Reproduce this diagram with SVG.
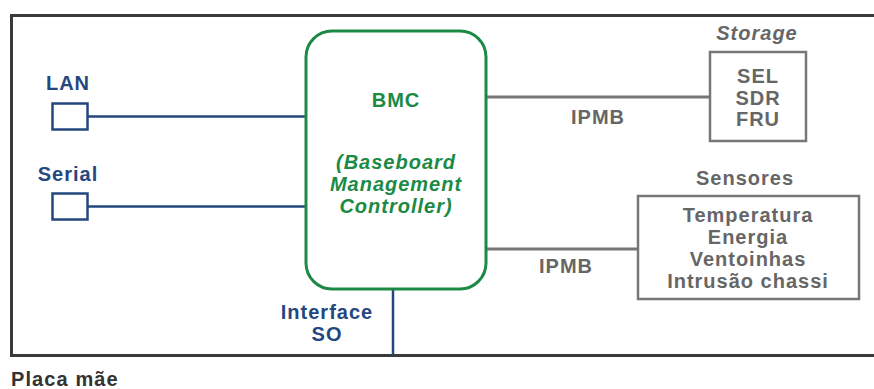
<svg xmlns="http://www.w3.org/2000/svg" width="874" height="389" viewBox="0 0 874 389">
  <style>
    text { font-family: "Liberation Sans", Arial, sans-serif; font-weight: bold; font-size: 20px; letter-spacing: 1px; }
    .blue { fill: #24477f; }
    .green { fill: #1c8a45; }
    .gray { fill: #666666; }
    .port { fill: #ffffff; stroke: #24477f; stroke-width: 2.5; }
    .bline { stroke: #24477f; stroke-width: 2.5; fill: none; }
    .gline { stroke: #777777; stroke-width: 3; fill: none; }
    .gbox { fill: #ffffff; stroke: #777777; stroke-width: 2.5; }
  </style>
  <rect width="874" height="389" fill="#ffffff"/>

  <!-- motherboard frame -->
  <g id="board">
    <rect x="11.5" y="15.5" width="880" height="340" fill="none" stroke="#3a3a3a" stroke-width="3"/>
    <text x="11" y="386" style="fill:#333333;font-size:20px;letter-spacing:1.1px">Placa mãe</text>
  </g>

  <!-- connectors -->
  <g id="connectors">
    <line class="bline" x1="88" y1="116.5" x2="306" y2="116.5"/>
    <line class="bline" x1="88" y1="206.5" x2="306" y2="206.5"/>
    <line class="bline" x1="393" y1="289" x2="393" y2="355"/>
    <line class="gline" x1="487" y1="97" x2="710" y2="97"/>
    <line class="gline" x1="487" y1="249" x2="638" y2="249"/>
  </g>

  <g id="lan">
    <text class="blue" x="68" y="90" text-anchor="middle">LAN</text>
    <rect class="port" x="52.5" y="103.5" width="35" height="26"/>
  </g>

  <g id="serial">
    <text class="blue" x="68" y="181" text-anchor="middle">Serial</text>
    <rect class="port" x="52.5" y="193.5" width="35" height="26"/>
  </g>

  <g id="bmc">
    <rect x="306" y="31" width="180" height="258" rx="26" ry="26" fill="#ffffff" stroke="#1c8a45" stroke-width="3"/>
    <text class="green" x="396" y="107" text-anchor="middle">BMC</text>
    <text class="green" x="396" y="169" text-anchor="middle" font-style="italic">(Baseboard</text>
    <text class="green" x="396" y="191" text-anchor="middle" font-style="italic">Management</text>
    <text class="green" x="396" y="213" text-anchor="middle" font-style="italic">Controller)</text>
  </g>

  <g id="interface-so">
    <text class="blue" x="327" y="319" text-anchor="middle">Interface</text>
    <text class="blue" x="327" y="341" text-anchor="middle">SO</text>
  </g>

  <g id="storage">
    <text class="gray" x="757" y="40" text-anchor="middle" font-style="italic">Storage</text>
    <rect class="gbox" x="710" y="52" width="96" height="89"/>
    <text class="gray" x="758" y="83" text-anchor="middle">SEL</text>
    <text class="gray" x="758" y="105" text-anchor="middle">SDR</text>
    <text class="gray" x="758" y="126" text-anchor="middle">FRU</text>
  </g>

  <g id="sensores">
    <text class="gray" x="745" y="185" text-anchor="middle">Sensores</text>
    <rect class="gbox" x="638" y="196" width="221" height="103"/>
    <text class="gray" x="748" y="222" text-anchor="middle">Temperatura</text>
    <text class="gray" x="748" y="244" text-anchor="middle">Energia</text>
    <text class="gray" x="748" y="266" text-anchor="middle">Ventoinhas</text>
    <text class="gray" x="748" y="288" text-anchor="middle">Intrusão chassi</text>
  </g>

  <g id="ipmb-labels">
    <text class="gray" x="598" y="124" text-anchor="middle">IPMB</text>
    <text class="gray" x="566" y="273" text-anchor="middle">IPMB</text>
  </g>
</svg>
